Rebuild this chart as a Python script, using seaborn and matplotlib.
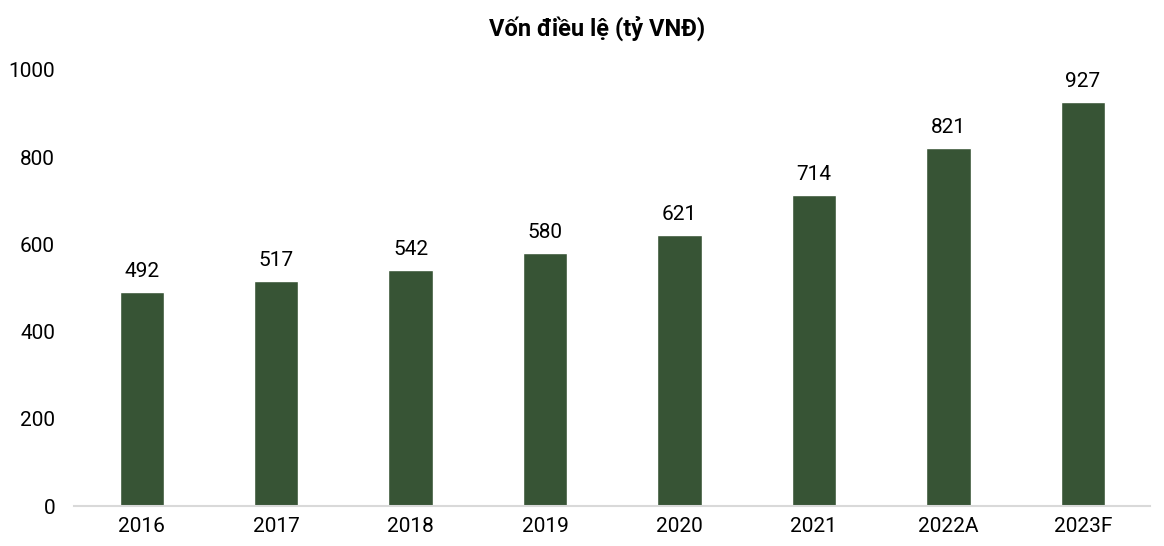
import pandas as pd
import seaborn as sns
import matplotlib.pyplot as plt

years = ['2016', '2017', '2018', '2019', '2020', '2021', '2022A', '2023F']
capital = [492, 517, 542, 580, 621, 714, 821, 927]

df = pd.DataFrame({'year': years, 'capital': capital})

sns.set_theme(style="white")
plt.rcParams['font.family'] = ['Roboto', 'DejaVu Sans']

fig = plt.figure(figsize=(11.64, 5.46), dpi=100)
ax = fig.add_axes([0.064, 0.073, 0.924, 0.799])

sns.barplot(data=df, x='year', y='capital', color='#375435', width=0.33,
            saturation=1, ax=ax)

for i, v in enumerate(capital):
    ax.text(i, v + 25, str(v), ha='center', va='bottom', fontsize=15, color='black')

ax.set_ylim(0, 1000)
ax.set_yticks([0, 200, 400, 600, 800, 1000])
ax.set_xlim(-0.5, 7.5)
ax.set_xlabel('')
ax.set_ylabel('')
ax.tick_params(axis='both', labelsize=15, colors='black', length=0)
ax.tick_params(axis='y', pad=14)
ax.tick_params(axis='x', pad=8)

for s in ['top', 'right', 'left']:
    ax.spines[s].set_visible(False)
ax.spines['bottom'].set_color('#d9d9d9')
ax.spines['bottom'].set_linewidth(1.5)

fig.suptitle('Vốn điều lệ (tỷ VNĐ)', x=0.513, y=0.972, fontsize=17,
             fontweight='bold', color='black')

plt.savefig('out.png', dpi=100)
